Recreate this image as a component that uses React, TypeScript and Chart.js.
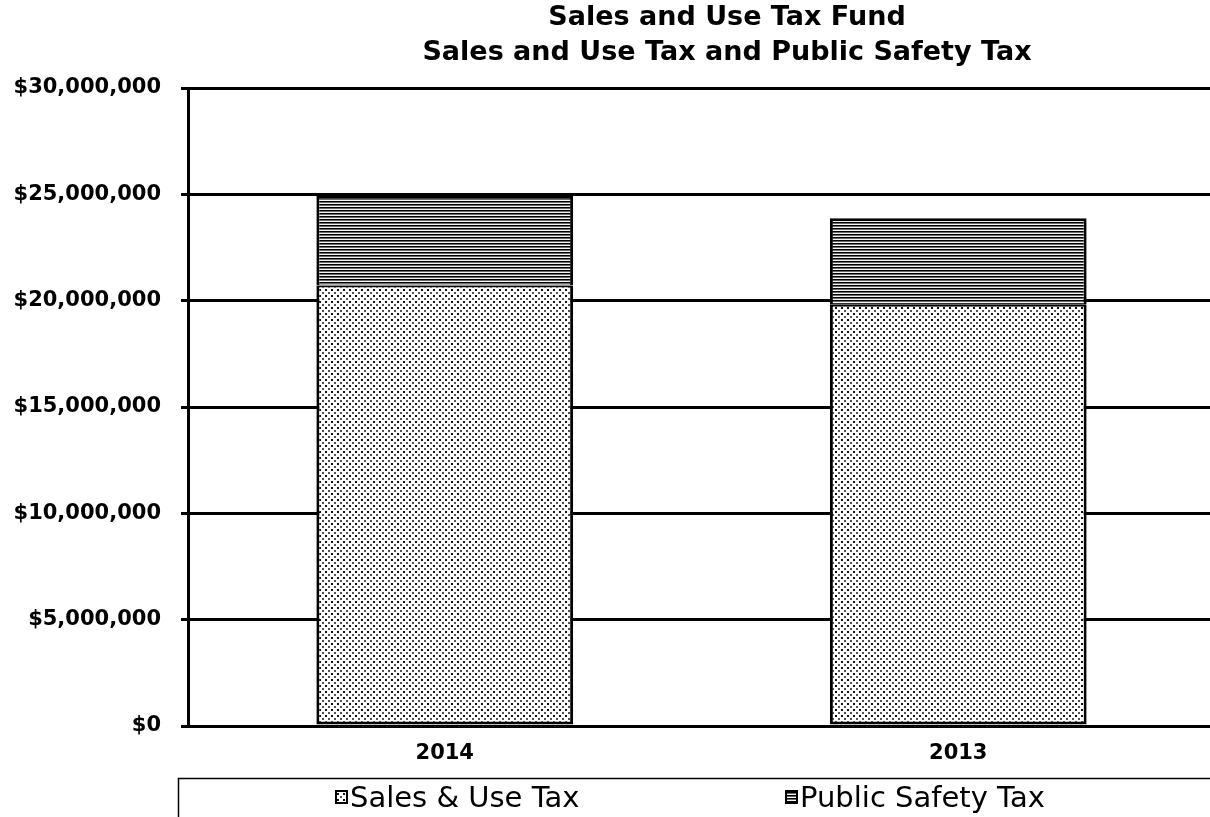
import React, { useEffect, useRef } from "react";
import { Chart, registerables } from "chart.js";

Chart.register(...registerables);

const titleLines = ["Sales and Use Tax Fund", "Sales and Use Tax and Public Safety Tax"];
const categories = ["2014", "2013"];
const seriesNames = ["Sales & Use Tax", "Public Safety Tax"];
const salesUseTax = [20710000, 19810000];
const publicSafetyTax = [4240000, 4070000];
const yTicks = { min: 0, max: 30000000, step: 5000000 };

function makeDotPattern(ctx: CanvasRenderingContext2D) {
  const c = document.createElement("canvas");
  c.width = 6;
  c.height = 6;
  const g = c.getContext("2d")!;
  g.fillStyle = "#ffffff";
  g.fillRect(0, 0, 6, 6);
  g.fillStyle = "#111111";
  g.fillRect(1, 1, 2, 2);
  g.fillStyle = "#555555";
  g.fillRect(4, 4, 2, 2);
  return ctx.createPattern(c, "repeat")!;
}

function makeLinePattern(ctx: CanvasRenderingContext2D) {
  const c = document.createElement("canvas");
  c.width = 4;
  c.height = 3;
  const g = c.getContext("2d")!;
  g.fillStyle = "#000000";
  g.fillRect(0, 0, 4, 1);
  g.fillStyle = "#6a6a6a";
  g.fillRect(0, 1, 4, 1);
  g.fillStyle = "#f4f4f4";
  g.fillRect(0, 2, 4, 1);
  return ctx.createPattern(c, "repeat")!;
}

export default function App() {
  const ref = useRef<HTMLCanvasElement | null>(null);

  useEffect(() => {
    const canvas = ref.current!;
    const ctx = canvas.getContext("2d")!;
    const dots = makeDotPattern(ctx);
    const lines = makeLinePattern(ctx);

    const decorPlugin = {
      id: "decor",
      afterDraw(chart: any) {
        const c = chart.ctx as CanvasRenderingContext2D;
        c.save();
        // title
        c.fillStyle = "#000";
        c.textAlign = "center";
        c.textBaseline = "middle";
        c.font = "bold 27px 'DejaVu Sans'";
        c.fillText(titleLines[0], 727, 18);
        c.fillText(titleLines[1], 727, 53);
        // legend box
        c.strokeStyle = "#000";
        c.lineWidth = 1.5;
        c.strokeRect(178.5, 778.5, 1200, 200);
        // legend items
        const items = [
          { x: 335, fill: dots, text: seriesNames[0], tx: 350 },
          { x: 785, fill: lines, text: seriesNames[1], tx: 800 },
        ];
        c.font = "29px 'DejaVu Sans'";
        c.textAlign = "left";
        for (const it of items) {
          c.fillStyle = it.fill as any;
          c.fillRect(it.x, 790, 13, 14);
          c.lineWidth = 2;
          c.strokeStyle = "#000";
          c.strokeRect(it.x + 1, 791, 11, 12);
          c.fillStyle = "#000";
          c.fillText(it.text, it.tx, 799);
        }
        c.restore();
      },
    };

    const chart = new Chart(ctx, {
      type: "bar",
      data: {
        labels: categories,
        datasets: [
          {
            label: seriesNames[0],
            data: salesUseTax,
            backgroundColor: dots as any,
            borderColor: "#000",
            borderWidth: { top: 2, left: 3, right: 3, bottom: 3 } as any,
            borderSkipped: false,
            barPercentage: 0.5,
            categoryPercentage: 1,
          },
          {
            label: seriesNames[1],
            data: publicSafetyTax,
            backgroundColor: lines as any,
            borderColor: "#000",
            borderWidth: { top: 3, left: 3, right: 3, bottom: 1 } as any,
            borderSkipped: false,
            barPercentage: 0.5,
            categoryPercentage: 1,
          },
        ],
      },
      options: {
        responsive: false,
        animation: false,
        events: [],
        layout: { padding: { top: 88, bottom: 39, left: 0, right: 15 } },
        plugins: {
          legend: { display: false },
          title: { display: false },
          tooltip: { enabled: false },
        },
        scales: {
          x: {
            stacked: true,
            grid: { display: false, drawTicks: false },
            border: { display: true, color: "#000", width: 3 },
            ticks: {
              color: "#000",
              font: { family: "'DejaVu Sans'", size: 21, weight: "bold" },
              padding: 15,
            },
            afterFit(scale: any) {
              scale.height = 52;
            },
          },
          y: {
            stacked: true,
            min: yTicks.min,
            max: yTicks.max,
            grid: { color: "#000", lineWidth: 3, drawTicks: true, tickLength: 7 },
            border: { display: true, color: "#000", width: 3 },
            ticks: {
              stepSize: yTicks.step,
              color: "#000",
              padding: 20,
              font: { family: "'DejaVu Sans'", size: 21, weight: "bold" },
              callback: (v: any) => "$" + Number(v).toLocaleString("en-US"),
            },
            afterFit(scale: any) {
              scale.width = 188;
            },
          },
        },
      },
      plugins: [decorPlugin],
    });
    return () => chart.destroy();
  }, []);

  return (
    <div
      style={{
        position: "fixed",
        left: 0,
        top: 0,
        width: 1210,
        height: 817,
        overflow: "hidden",
        background: "#fff",
      }}
    >
      <canvas ref={ref} width={1230} height={817} style={{ display: "block" }} />
    </div>
  );
}
